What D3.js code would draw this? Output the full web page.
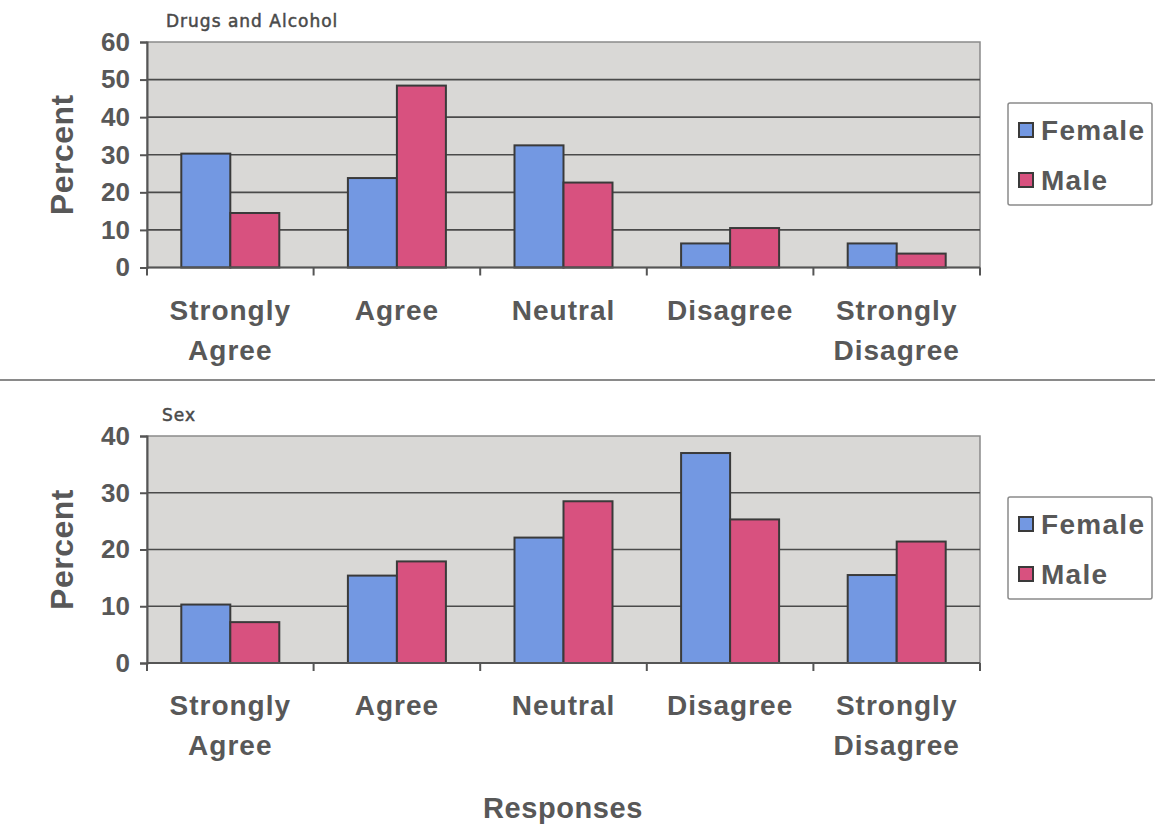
<!DOCTYPE html>
<html>
<head>
<meta charset="utf-8">
<script src="https://cdn.jsdelivr.net/npm/d3@7"></script>
<style>
  html, body { margin: 0; padding: 0; background: #fff; }
  svg { display: block; }
</style>
</head>
<body>
<svg id="chart" width="1155" height="826"></svg>
<script>
// Survey responses by gender, percent
const categories = ["Strongly Agree", "Agree", "Neutral", "Disagree", "Strongly Disagree"];
const categoryLines = [["Strongly", "Agree"], ["Agree"], ["Neutral"], ["Disagree"], ["Strongly", "Disagree"]];
const seriesNames = ["Female", "Male"];

const drugsFemale = [30.3, 23.8, 32.5, 6.4, 6.4];
const drugsMale   = [14.5, 48.4, 22.6, 10.5, 3.7];
const drugsTicks  = [0, 10, 20, 30, 40, 50, 60];

const sexFemale = [10.3, 15.4, 22.1, 37.0, 15.5];
const sexMale   = [7.2, 17.9, 28.5, 25.3, 21.4];
const sexTicks  = [0, 10, 20, 30, 40];

const colors = { Female: "#7398e2", Male: "#d8517f" };
const textColor = "#585858";
const boldFont = "'Liberation Sans', Arial, sans-serif";

const svg = d3.select("#chart");
svg.append("rect").attr("width", 1155).attr("height", 826).attr("fill", "#fff");

function drawPanel(opts) {
  const { title, female, male, ticks, top, bottom, legendTop } = opts;
  const left = 147, right = 980;
  const g = svg.append("g");

  const x = d3.scaleBand().domain(categories).range([left, right]).padding(0);
  const xs = d3.scaleBand().domain(seriesNames).range([0, x.bandwidth()])
    .paddingInner(0).paddingOuter(0.7);
  const y = d3.scaleLinear().domain([0, d3.max(ticks)]).range([bottom, top]);

  // plot area
  g.append("rect")
    .attr("x", left).attr("y", top)
    .attr("width", right - left).attr("height", bottom - top)
    .attr("fill", "#d9d8d6").attr("stroke", "#8a8a8a").attr("stroke-width", 1.5);

  // horizontal gridlines
  g.selectAll(".grid").data(ticks.filter(t => t > 0 && t < d3.max(ticks)))
    .join("line")
    .attr("x1", left).attr("x2", right)
    .attr("y1", d => y(d)).attr("y2", d => y(d))
    .attr("stroke", "#4a4a4a").attr("stroke-width", 1.6);

  // bars
  const rows = categories.map((c, i) => ({ cat: c, Female: female[i], Male: male[i] }));
  const groups = g.selectAll(".grp").data(rows).join("g")
    .attr("transform", d => `translate(${x(d.cat)},0)`);
  groups.selectAll("rect")
    .data(d => seriesNames.map(s => ({ s, v: d[s] })))
    .join("rect")
    .attr("x", d => xs(d.s))
    .attr("y", d => y(d.v))
    .attr("width", xs.bandwidth())
    .attr("height", d => y(0) - y(d.v))
    .attr("fill", d => colors[d.s])
    .attr("stroke", "#3a3a3a").attr("stroke-width", 2);

  // y axis
  const yAxis = d3.axisLeft(y).tickValues(ticks).tickSize(7).tickPadding(10)
    .tickFormat(d3.format("d"));
  const ya = g.append("g").attr("transform", `translate(${left},0)`).call(yAxis);
  ya.select(".domain").attr("stroke", "#555").attr("stroke-width", 2);
  ya.selectAll(".tick line").attr("stroke", "#555").attr("stroke-width", 2);
  ya.selectAll(".tick text")
    .attr("fill", textColor)
    .style("font-family", boldFont).style("font-weight", "bold").style("font-size", "26px");

  // x axis baseline and category separators
  const xa = g.append("g");
  xa.append("line").attr("x1", left).attr("x2", right)
    .attr("y1", bottom).attr("y2", bottom)
    .attr("stroke", "#555").attr("stroke-width", 2);
  const bounds = categories.map(c => x(c)).concat([right]);
  xa.selectAll(".xt").data(bounds).join("line")
    .attr("x1", d => d).attr("x2", d => d)
    .attr("y1", bottom).attr("y2", bottom + 8)
    .attr("stroke", "#555").attr("stroke-width", 2);

  // category labels
  const lbl = g.selectAll(".cat").data(categories).join("text")
    .attr("x", d => x(d) + x.bandwidth() / 2)
    .attr("y", bottom + 52)
    .attr("text-anchor", "middle")
    .attr("fill", textColor)
    .style("font-family", boldFont).style("font-weight", "bold")
    .style("font-size", "28px").style("letter-spacing", "1px");
  lbl.each(function(d, i) {
    const t = d3.select(this);
    categoryLines[i].forEach((line, k) => {
      t.append("tspan")
        .attr("x", x(d) + x.bandwidth() / 2)
        .attr("dy", k === 0 ? 0 : 40)
        .text(line);
    });
  });

  // axis title
  g.append("text")
    .attr("transform", `translate(73,${(top + bottom) / 2}) rotate(-90)`)
    .attr("text-anchor", "middle")
    .attr("fill", textColor)
    .style("font-family", boldFont).style("font-weight", "bold")
    .style("font-size", "32px").style("letter-spacing", "0.5px")
    .text("Percent");

  // chart title
  g.append("text")
    .attr("x", title === "Sex" ? 162 : 166).attr("y", top - 15)
    .attr("fill", "#4a4a4a")
    .attr("stroke", "#4a4a4a").attr("stroke-width", 0.5)
    .style("font-family", "'DejaVu Sans', Verdana, sans-serif")
    .style("font-size", "17px").style("letter-spacing", "1px")
    .text(title);

  // legend
  const lg = g.append("g").attr("transform", `translate(1008,${legendTop})`);
  lg.append("rect").attr("width", 144).attr("height", 102)
    .attr("rx", 2)
    .attr("fill", "#fff").attr("stroke", "#8a8a8a").attr("stroke-width", 1.5);
  seriesNames.forEach((s, i) => {
    const cy = 27 + i * 50;
    lg.append("rect").attr("x", 11).attr("y", cy - 7).attr("width", 14).attr("height", 14)
      .attr("fill", colors[s]).attr("stroke", "#3a3a3a").attr("stroke-width", 2);
    lg.append("text").attr("x", 33).attr("y", cy + 10)
      .attr("fill", textColor)
      .style("font-family", boldFont).style("font-weight", "bold")
      .style("font-size", "28px").style("letter-spacing", "1.3px")
      .text(s);
  });
}

drawPanel({ title: "Drugs and Alcohol", female: drugsFemale, male: drugsMale, ticks: drugsTicks,
  top: 42, bottom: 267.5, legendTop: 103 });

// divider between the two charts
svg.append("line").attr("x1", 0).attr("x2", 1155).attr("y1", 380).attr("y2", 380)
  .attr("stroke", "#8a8a8a").attr("stroke-width", 2);

drawPanel({ title: "Sex", female: sexFemale, male: sexMale, ticks: sexTicks,
  top: 436, bottom: 663, legendTop: 497 });

// shared x axis title
svg.append("text")
  .attr("x", 563).attr("y", 818)
  .attr("text-anchor", "middle")
  .attr("fill", textColor)
  .style("font-family", boldFont).style("font-weight", "bold")
  .style("font-size", "29px").style("letter-spacing", "0.6px")
  .text("Responses");
</script>
</body>
</html>
